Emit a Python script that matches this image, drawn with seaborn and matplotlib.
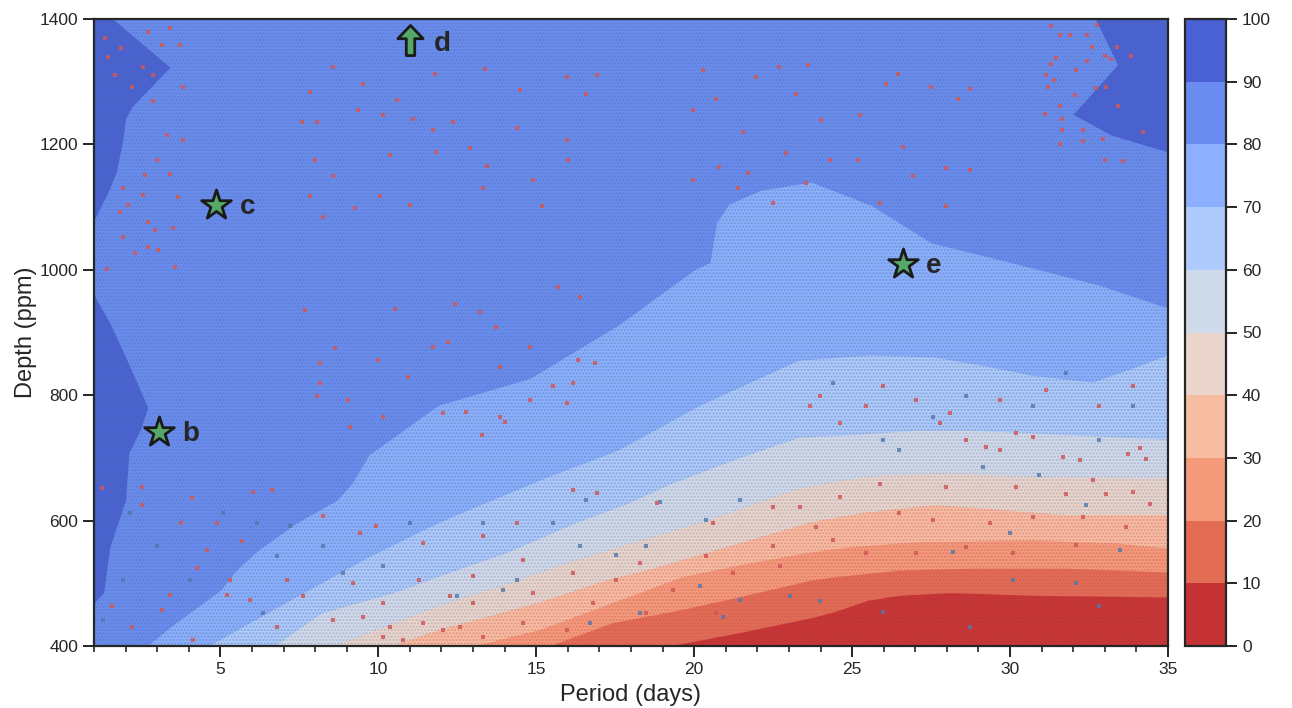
import matplotlib
matplotlib.use('Agg')
import matplotlib.pyplot as plt
from matplotlib.colors import ListedColormap, BoundaryNorm
from matplotlib.cm import ScalarMappable
from matplotlib.path import Path
from matplotlib.ticker import MultipleLocator
import seaborn as sns

# contour crossings: (period, depth) for each completeness level
period_80 = [2.68, 3.4, 5.0, 5.5, 6.2, 7.4, 8.7, 9.2, 9.7, 11.9, 14.8, 17.6, 20.0, 20.5, 20.7, 21.1, 22.1, 23.7, 25.6, 27.5, 30.0, 32.8, 35]
depth_80 = [400, 430, 489, 521, 553, 596, 633, 662, 705, 784, 827, 912, 1000, 1012, 1075, 1105, 1127, 1140, 1103, 1043, 1012, 976, 939]
period_70 = [4.6, 6.8, 9.6, 11.4, 12.3, 14.5, 15.1, 17.6, 20.2, 23.3, 25.5, 27.6, 29.1, 30.7, 32.6, 33.9, 35]
depth_70 = [400, 462, 540, 585, 606, 652, 665, 713, 785, 856, 864, 861, 848, 832, 821, 844, 865]
period_60 = [6.7, 8.2, 10.4, 12.0, 14.1, 16.2, 17.9, 19.3, 21.4, 23.3, 24.9, 27.0, 28.6, 30.7, 33.9, 35]
depth_60 = [400, 453, 484, 513, 550, 596, 628, 660, 700, 733, 737, 744, 744, 740, 732, 730]
period_50 = [8.6, 10.7, 11.9, 14.1, 16.2, 18.3, 20.4, 22.5, 23.3, 24.7, 26.0, 28.1, 30.7, 35]
depth_50 = [400, 441, 465, 500, 537, 569, 601, 638, 652, 665, 673, 676, 670, 668]
period_40 = [10.4, 11.9, 15.1, 17.2, 18.7, 21.0, 23.7, 25.5, 27.6, 29.1, 31.8, 35]
depth_40 = [400, 426, 470, 505, 524, 558, 598, 614, 625, 620, 609, 609]
period_30 = [13.0, 15.1, 17.2, 19.6, 21.4, 23.7, 24.9, 27.0, 30.7, 33.4, 35]
depth_30 = [400, 426, 465, 510, 529, 550, 558, 566, 569, 564, 556]
period_20 = [15.4, 17.4, 19.5, 21.4, 23.7, 24.4, 26.5, 28.6, 31.8, 35]
depth_20 = [400, 437, 457, 478, 505, 510, 521, 524, 524, 518]
period_10 = [19.2, 21.4, 23.7, 24.4, 25.5, 26.5, 28.1, 30.7, 35]
depth_10 = [400, 421, 445, 454, 473, 481, 485, 481, 478]

# the 90-100 patches along the left and right edges
left_top_depth = [1400, 1323, 1260, 1242, 1204, 1156, 1130, 1079]
left_top_period = [1.6, 3.4, 2.2, 2.0, 1.9, 1.7, 1.5, 1.0]
left_low_depth = [960, 915, 872, 781, 749, 708, 633, 558, 485, 469]
left_low_period = [1.0, 1.5, 1.9, 2.7, 2.5, 2.1, 2.0, 1.5, 1.3, 1.0]
right_depth = [1400, 1327, 1248, 1215, 1188]
right_period = [32.7, 33.4, 32.0, 33.2, 35]

missed_period = [1.35, 1.45, 1.66, 1.87, 2.19, 2.56, 2.88, 2.88, 3.40, 3.72, 2.72, 3.14, 3.83, 3.30, 3.83, 2.98, 2.61, 3.40, 1.93, 2.09, 3.67, 2.56, 1.82, 2.72, 3.51, 2.93, 1.93, 2.72, 3.04, 2.30, 1.40, 3.56,
                 31.31, 31.57, 31.89, 32.42, 32.75, 33.37, 33.84, 32.58, 33.0, 33.21, 31.47, 31.31, 32.1, 32.42, 31.15, 31.38, 31.2, 32.73, 33.05, 32.05, 33.42, 31.57, 31.63, 31.1, 32.31, 31.63, 34.21, 32.31, 32.94, 31.57, 33.0, 33.58,
                 34.10, 33.73, 34.31, 32.62, 32.2, 31.67, 29.67, 29.25, 30.72, 30.2, 28.61, 28.09, 27.03, 25.98, 25.45, 24.61, 23.97, 23.66, 27.77, 29.67, 31.15, 32.83, 33.89,
                 26.5, 27.56, 29.35, 30.72, 32.3, 34.42, 33.68, 32.1, 30.09, 28.61, 27.03, 25.45, 24.39, 23.87, 30.2, 31.78, 33.04, 33.89, 27.98, 25.87, 24.61,
                 1.24, 2.51, 4.09, 6.04, 6.62, 2.51, 3.77, 4.88, 5.67, 4.57, 3.41, 4.25, 1.56, 3.14, 2.19, 4.14, 5.3, 5.2, 5.94, 7.1, 7.62, 8.26, 9.42, 9.94, 11.42, 9.21, 8.57, 6.78, 10.16, 11.3, 9.52, 10.37, 11.42, 12.05, 10.79, 10.16,
                 13.32, 14.38, 16.17, 16.91, 18.81, 20.6, 22.5, 23.34, 22.5, 20.39, 18.28, 16.17, 14.59, 13.0, 12.27, 13.0, 14.9, 17.54, 19.33, 21.23, 22.71, 16.8, 18.49, 14.59, 12.58, 13.32, 15.96, 20.7,
                 10.58, 11.11, 11.74, 12.37, 12.9, 13.43, 14.38, 16.01, 15.96, 7.84, 8.57, 7.99, 10.37, 11.84, 14.9, 15.17, 13.32, 11.0, 10.05, 9.26, 8.26, 11.79, 9.52, 8.57, 14.48, 15.96, 16.91, 16.59, 13.37, 7.84, 7.57, 8.05, 9.37, 10.16,
                 20.70, 23.6, 22.7, 26.08, 26.45, 21.54, 19.96, 23.23, 24.02, 25.24, 27.5, 28.35, 28.72, 20.8, 22.92, 25.18, 26.61, 27.98, 21.7, 19.96, 21.39, 25.87, 26.92, 28.72, 27.98, 22.49, 23.55, 24.29, 20.28, 21.97,
                 11.74, 8.15, 10.0, 10.95, 8.15, 9.05, 8.05, 12.43, 13.22, 10.53, 8.63, 13.85, 12.21, 7.68, 13.74, 14.8, 16.38, 15.7, 16.33, 13.85, 12.79, 14.0, 15.54, 16.86, 12.06, 14.8, 15.96, 9.1, 10.16, 13.27, 16.17]
missed_depth = [1369, 1340, 1311, 1353, 1292, 1324, 1310, 1270, 1385, 1358, 1379, 1358, 1292, 1215, 1207, 1175, 1151, 1153, 1130, 1103, 1116, 1119, 1092, 1076, 1066, 1063, 1052, 1037, 1031, 1026, 1002, 1005,
                1389, 1374, 1374, 1375, 1390, 1355, 1341, 1355, 1341, 1337, 1338, 1329, 1318, 1333, 1310, 1302, 1292, 1290, 1292, 1278, 1262, 1262, 1240, 1249, 1223, 1223, 1220, 1205, 1209, 1201, 1175, 1174,
                715, 707, 699, 665, 697, 702, 713, 718, 734, 739, 728, 771, 792, 814, 782, 755, 798, 782, 755, 792, 808, 782, 814,
                612, 601, 596, 606, 606, 627, 590, 561, 548, 558, 548, 548, 569, 590, 654, 643, 643, 646, 654, 659, 638,
                652, 654, 636, 646, 649, 625, 596, 596, 567, 553, 482, 524, 463, 458, 431, 410, 505, 482, 474, 505, 479, 607, 580, 591, 564, 500, 442, 431, 468, 505, 447, 431, 436, 426, 410, 415,
                575, 596, 649, 644, 628, 596, 622, 622, 559, 543, 532, 516, 537, 511, 479, 468, 484, 505, 490, 516, 527, 468, 452, 436, 431, 415, 426, 452,
                1271, 1240, 1223, 1236, 1194, 1165, 1226, 1175, 1207, 1117, 1149, 1175, 1183, 1188, 1143, 1101, 1130, 1103, 1117, 1098, 1085, 1313, 1297, 1324, 1287, 1308, 1311, 1281, 1321, 1284, 1236, 1236, 1255, 1247,
                1273, 1327, 1324, 1297, 1313, 1220, 1255, 1281, 1239, 1247, 1292, 1273, 1289, 1164, 1186, 1175, 1196, 1162, 1154, 1143, 1130, 1106, 1149, 1159, 1101, 1106, 1138, 1175, 1319, 1308,
                877, 851, 856, 829, 819, 792, 798, 946, 933, 938, 875, 845, 885, 936, 909, 877, 957, 973, 856, 766, 774, 758, 814, 851, 771, 792, 787, 750, 766, 736, 819]
found_period = [29.99, 28.19, 30.93, 32.41, 33.47, 32.1, 30.09, 32.83, 28.72, 25.98, 23.97, 24.39, 26.5, 27.56, 28.61, 31.78, 33.89, 30.72, 32.83, 29.14, 25.98,
                13.32, 15.54, 16.59, 18.91, 21.44, 20.39, 17.54, 16.38, 14.38, 12.48, 13.95, 18.49, 21.44, 20.92, 18.28, 16.7, 20.18, 23.03,
                1.3, 1.93, 2.98, 4.04, 2.14, 5.09, 6.15, 6.78, 7.2, 8.26, 8.89, 10.16, 6.36, 11.0]
found_depth = [580, 550, 673, 625, 553, 500, 505, 463, 431, 455, 471, 819, 713, 766, 798, 835, 782, 782, 728, 686, 728,
               596, 596, 633, 630, 633, 601, 545, 559, 505, 479, 490, 559, 474, 447, 452, 436, 495, 479,
               442, 505, 559, 505, 612, 612, 596, 543, 591, 559, 516, 527, 452, 596]

planet_names = ['b', 'c', 'e']
planet_period = [3.06, 4.86, 26.6]
planet_depth = [741, 1103, 1009]
limit_name = 'd'
limit_period = [11.0]
limit_depth = [1366]

levels = [0, 10, 20, 30, 40, 50, 60, 70, 80, 90, 100]

sns.set_theme(style='ticks')
plt.rcParams['font.family'] = ['Liberation Sans', 'DejaVu Sans']
# same colours contourf would pick: the middle of each band
cm = sns.color_palette('coolwarm_r', as_cmap=True)
band_colors = [cm((lo + hi) / 200) for lo, hi in zip(levels[:-1], levels[1:])]

fig = plt.figure(figsize=(12.92, 7.08), dpi=100)
ax = fig.add_axes([94 / 1292, 1 - 646 / 708, (1168 - 94) / 1292, (646 - 19) / 708])
cax = fig.add_axes([1185 / 1292, 1 - 646 / 708, (1226 - 1185) / 1292, (646 - 19) / 708])


# fine stipple gives each band the overall tone of the dense dots
def stippled(x, y0, y1, color, tone, hatch='.....', horizontal=False):
    fill = ax.fill_betweenx if horizontal else ax.fill_between
    fill(x, y0, y1, color=color, lw=0)
    fill(x, y0, y1, facecolor='none', edgecolor=tone, hatch=hatch, lw=0)


blue_tone = (0.30, 0.45, 0.62, 0.40)
mixed_tone = (0.50, 0.48, 0.62, 0.35)
red_tone = (0.75, 0.30, 0.32, 0.35)

# whole panel starts as the 80-90 band, lower bands get painted over it
stippled([1, 35], 400, 1400, band_colors[8], blue_tone)
stippled(left_top_depth, 1, left_top_period, band_colors[9], blue_tone, horizontal=True)
stippled(left_low_depth, 1, left_low_period, band_colors[9], blue_tone, horizontal=True)
stippled(right_depth, right_period, 35, band_colors[9], (0.30, 0.45, 0.62, 0.20), horizontal=True)

bounds = [(period_80, depth_80, 7, blue_tone), (period_70, depth_70, 6, blue_tone),
          (period_60, depth_60, 5, mixed_tone), (period_50, depth_50, 4, mixed_tone),
          (period_40, depth_40, 3, red_tone), (period_30, depth_30, 2, red_tone),
          (period_20, depth_20, 1, red_tone), (period_10, depth_10, 0, red_tone)]
for p, d, idx, tone in bounds:
    stippled(p, 400, d, band_colors[idx], tone)

sns.scatterplot(x=found_period, y=found_depth, marker='s', s=5, color='#4f78ad', alpha=0.8, linewidth=0, ax=ax, zorder=3, legend=False)
sns.scatterplot(x=missed_period, y=missed_depth, marker='s', s=5, color='#d0585a', alpha=0.85, linewidth=0, ax=ax, zorder=3, legend=False)

# planets
sns.scatterplot(x=planet_period, y=planet_depth, marker='*', s=500, color='#55a868',
                edgecolor='#1a1a1a', linewidth=2, ax=ax, zorder=5, legend=False)
arrow = Path([(-0.14, -0.5), (-0.14, 0.06), (-0.42, 0.06), (0, 0.5), (0.42, 0.06), (0.14, 0.06), (0.14, -0.5), (-0.14, -0.5)], closed=True)
sns.scatterplot(x=limit_period, y=limit_depth, marker=arrow, s=470, color='#55a868',
                edgecolor='#1a1a1a', linewidth=2, ax=ax, zorder=5, legend=False)

for name, p, d in zip(planet_names, planet_period, planet_depth):
    ax.annotate(name, (p, d), xytext=(17, -1), textcoords='offset points', fontsize=20, fontweight='bold',
                color='.15', va='center', zorder=6)
ax.annotate(limit_name, (limit_period[0], limit_depth[0]), xytext=(17, -3), textcoords='offset points',
            fontsize=20, fontweight='bold', color='.15', va='center', zorder=6)

ax.set_xlim(1, 35)
ax.set_ylim(400, 1400)
ax.xaxis.set_major_locator(MultipleLocator(5))
ax.xaxis.set_minor_locator(MultipleLocator(1))
ax.yaxis.set_major_locator(MultipleLocator(200))
ax.tick_params(axis='both', which='major', length=8, width=1.4, labelsize=12.5, color='.15', labelcolor='.15')
ax.tick_params(axis='x', which='minor', length=4.5, width=1.2, color='.15')
ax.set_xlabel('Period (days)', fontsize=17, color='.15', labelpad=5)
ax.set_ylabel('Depth (ppm)', fontsize=17, color='.15', labelpad=2)
for s in ax.spines.values():
    s.set_linewidth(1.6)
    s.set_color('.15')
    s.set_visible(True)

# colorbar
cmap = ListedColormap(band_colors)
norm = BoundaryNorm(levels, cmap.N)
cb = fig.colorbar(ScalarMappable(norm=norm, cmap=cmap), cax=cax, ticks=levels, spacing='proportional')
cb.ax.tick_params(length=8, width=1.4, labelsize=12.5, color='.15', labelcolor='.15')
cb.outline.set_linewidth(1.6)
cb.outline.set_edgecolor('.15')

fig.savefig('out.png', dpi=100)
